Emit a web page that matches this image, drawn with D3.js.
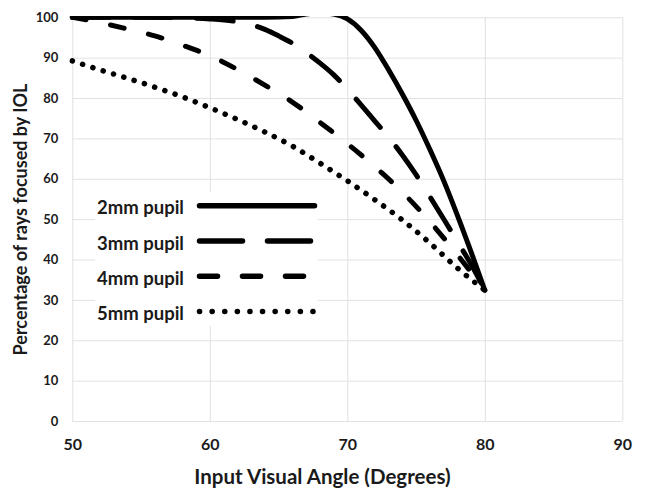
<!DOCTYPE html>
<html>
<head>
<meta charset="utf-8">
<script src="https://cdn.jsdelivr.net/npm/d3@7"></script>
<style>
  body { margin: 0; background: #fff; }
  svg { display: block; font-family: Lato, "Open Sans", sans-serif; font-weight: bold; }
  .grid line { stroke: #e2e2e2; stroke-width: 1; }
  .grid .domain { display: none; }
</style>
</head>
<body>
<div class="plot"></div>
<script>
// values
var angles2mm = [50, 55, 60, 64, 66, 67, 68, 69, 70, 71, 72, 73, 74, 75, 76, 77, 78, 79, 80];
var pct2mm    = [100, 100, 100, 100, 100.2, 100.8, 101.1, 100.8, 99.6, 96.8, 92.5, 87, 81, 74.5, 67.3, 59.6, 51, 41.9, 32.4];

var angles3mm = [50, 55, 58, 60, 62, 63, 64, 65, 66, 67, 68, 69, 70, 71, 72, 73, 74, 75, 76, 77, 78, 79, 80];
var pct3mm    = [100, 100, 99.9, 99.6, 98.9, 98.2, 97, 95.4, 93.6, 91.3, 88.7, 85.8, 82.2, 78.3, 74.3, 70.3, 65.9, 61, 55.6, 50.1, 44.5, 38.8, 32.4];

var angles4mm = [50, 52, 54, 56, 58, 60, 62, 64, 66, 68, 70, 72, 74, 76, 78, 80];
var pct4mm    = [100, 98.7, 97.1, 95.4, 93.1, 90.5, 87.1, 83.2, 79, 74, 68.7, 63, 56.7, 49.4, 41.2, 32.4];

var angles5mm = [50, 52, 54, 56, 58, 60, 62, 64, 66, 68, 70, 72, 74, 76, 78, 80];
var pct5mm    = [89.2, 87, 84.9, 82.7, 80.3, 77.6, 74.7, 71.6, 68.1, 63.9, 59.5, 54.8, 49.8, 44.1, 37.9, 32.4];

var seriesNames = ["2mm pupil", "3mm pupil", "4mm pupil", "5mm pupil"];
var xTicks = [50, 60, 70, 80, 90];
var yTicks = [0, 10, 20, 30, 40, 50, 60, 70, 80, 90, 100];

var width = 645,
    height = 490,
    plotLeft = 72.3, plotRight = 622.3,
    plotTop = 17.3, plotBottom = 421;

// stroke styles per series (solid, long dash, dash, dots)
var styles = [
  {dash: null,       legendDash: null},
  {dash: "37,25",    legendDash: "43,25"},
  {dash: "14,25",    legendDash: "18,25"},
  {dash: "0.1,10.7", legendDash: "0.1,12.5"}
];

var series = [
  {name: seriesNames[0], x: angles2mm, y: pct2mm},
  {name: seriesNames[1], x: angles3mm, y: pct3mm},
  {name: seriesNames[2], x: angles4mm, y: pct4mm},
  {name: seriesNames[3], x: angles5mm, y: pct5mm}
];

var x = d3.scaleLinear().domain([50, 90]).range([plotLeft, plotRight]);
var y = d3.scaleLinear().domain([0, 100]).range([plotBottom, plotTop]);

var svg = d3.select(".plot").append("svg")
    .attr("width", width)
    .attr("height", height);

// gridlines + tick labels
var gx = svg.append("g")
    .attr("class", "grid")
    .attr("transform", "translate(0," + plotBottom + ")")
    .call(d3.axisBottom(x).tickValues(xTicks).tickSize(-(plotBottom - plotTop)).tickPadding(18));
gx.selectAll("text")
    .style("font-size", "16px")
    .style("font-weight", "bold")
    .style("font-family", "Lato, sans-serif")
    .attr("fill", "#1a1a1a");

var gy = svg.append("g")
    .attr("class", "grid")
    .attr("transform", "translate(" + plotLeft + ",0)")
    .call(d3.axisLeft(y).tickValues(yTicks).tickSize(-(plotRight - plotLeft)).tickPadding(14));
gy.selectAll("text")
    .style("font-size", "13px")
    .style("font-weight", "bold")
    .style("font-family", "Lato, sans-serif")
    .attr("fill", "#1a1a1a");

svg.append("clipPath")
    .attr("id", "plotclip")
  .append("rect")
    .attr("x", plotLeft - 3)
    .attr("y", plotTop - 1.2)
    .attr("width", plotRight - plotLeft + 6)
    .attr("height", plotBottom - plotTop + 4);

var line = d3.line()
    .x(function(d) { return x(d[0]); })
    .y(function(d) { return y(d[1]); })
    .curve(d3.curveMonotoneX);

svg.append("g")
    .attr("clip-path", "url(#plotclip)")
  .selectAll(".series")
    .data(series)
  .enter().append("path")
    .attr("class", "series")
    .attr("d", function(s) { return line(s.x.map(function(v, i) { return [v, s.y[i]]; })); })
    .attr("fill", "none")
    .attr("stroke", "#000")
    .attr("stroke-width", function(s, i) { return i === 3 ? 5.5 : 5; })
    .attr("stroke-linecap", "round")
    .attr("stroke-dasharray", function(s, i) { return styles[i].dash; });

// legend
var legend = svg.append("g");
legend.append("rect")
    .attr("x", 95)
    .attr("y", 192)
    .attr("width", 223)
    .attr("height", 134)
    .attr("fill", "#fff");

var rows = legend.selectAll(".row")
    .data(series)
  .enter().append("g")
    .attr("class", "row")
    .attr("transform", function(d, i) { return "translate(0," + (205.7 + i * 35.3) + ")"; });

rows.append("text")
    .attr("x", 97)
    .attr("y", 8.5)
    .style("font-size", "18.5px")
    .attr("fill", "#1a1a1a")
    .text(function(d) { return d.name; });

rows.append("line")
    .attr("x1", 199.5)
    .attr("x2", 314.5)
    .attr("stroke", "#000")
    .attr("stroke-width", 5.5)
    .attr("stroke-linecap", "round")
    .attr("stroke-dasharray", function(d, i) { return styles[i].legendDash; });

// axis titles
svg.append("text")
    .attr("x", 322.5)
    .attr("y", 484)
    .attr("text-anchor", "middle")
    .style("font-size", "20.5px")
    .attr("fill", "#1a1a1a")
    .text("Input Visual Angle (Degrees)");

svg.append("text")
    .attr("transform", "translate(27,219.5) rotate(-90)")
    .attr("text-anchor", "middle")
    .style("font-size", "18px")
    .attr("fill", "#1a1a1a")
    .text("Percentage of rays focused by IOL");
</script>
</body>
</html>
